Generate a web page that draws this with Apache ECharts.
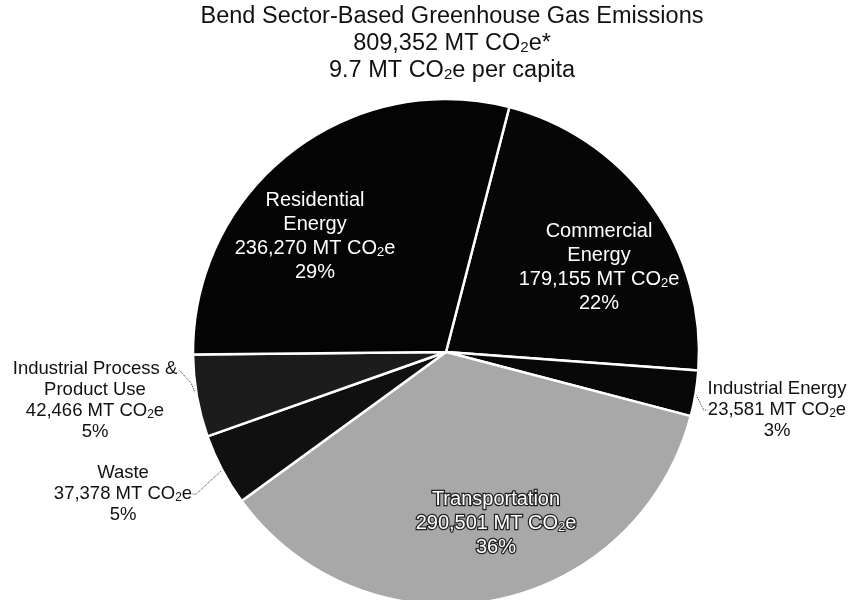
<!DOCTYPE html>
<html><head><meta charset="utf-8">
<script src="https://cdn.jsdelivr.net/npm/echarts@6/dist/echarts.min.js"></script>
<style>html,body{margin:0;padding:0;background:#fff}#c{width:861px;height:600px}</style>
</head><body><div id="c"></div>
<script>
// ---- data ----
const titleLines = ['Bend Sector-Based Greenhouse Gas Emissions', '809,352 MT CO₂e*', '9.7 MT CO₂e per capita'];
const categories = ['Commercial Energy', 'Industrial Energy', 'Transportation', 'Waste', 'Industrial Process & Product Use', 'Residential Energy'];
const labelNames = ['Commercial\nEnergy', 'Industrial Energy', 'Transportation', 'Waste', 'Industrial Process &\nProduct Use', 'Residential\nEnergy'];
const values = [179155, 23581, 290501, 37378, 42466, 236270];
const percents = ['22%', '3%', '36%', '5%', '5%', '29%'];

// ---- styling / layout ----
const FONT = '"Liberation Sans", Arial, sans-serif';
const colors = ['#060606', '#080808', '#a8a8a8', '#101010', '#1c1c1c', '#040404'];
const inside = [true, false, true, false, false, true];
const labelXY = [[599, 267], [777, 410], [496, 523], [123, 494], [95, 400], [315, 236]];

function subs(s) { return s.replace(/₂/g, '{s|2}'); }

const data = categories.map((c, i) => ({
  name: c,
  value: values[i],
  itemStyle: { color: colors[i] },
  label: inside[i] ? {
    position: 'inside', color: '#fff', fontSize: 20, lineHeight: 24,
    textBorderColor: i === 2 ? '#222' : 'transparent', textBorderWidth: i === 2 ? 2.5 : 0,
    rich: { s: { fontSize: 13, lineHeight: 13, padding: [8, 0, 0, 0], color: '#fff',
      textBorderColor: i === 2 ? '#222' : 'transparent', textBorderWidth: i === 2 ? 2 : 0 } }
  } : {
    position: 'outside', color: '#111', fontSize: 18.5, lineHeight: 21,
    rich: { s: { fontSize: 12, lineHeight: 12, padding: [8, 0, 0, 0], color: '#111' } }
  },
  labelLine: { show: !inside[i] }
}));

const chart = echarts.init(document.getElementById('c'), null, { renderer: 'canvas' });
chart.setOption({
  animation: false,
  backgroundColor: '#fff',
  title: {
    text: subs(titleLines.join('\n')),
    left: 447, top: -2, textAlign: 'center',
    textStyle: {
      fontFamily: FONT, fontSize: 23.5, lineHeight: 27, fontWeight: 'normal', color: '#111',
      rich: { s: { fontFamily: FONT, fontSize: 15, lineHeight: 15, padding: [9, 0, 0, 0], color: '#111' } }
    }
  },
  series: [{
    type: 'pie',
    center: [446, 352],
    radius: 253,
    startAngle: 75.5,
    clockwise: true,
    avoidLabelOverlap: false,
    silent: true,
    itemStyle: { borderColor: '#fff', borderWidth: 2.5 },
    label: {
      fontFamily: FONT,
      formatter: p => {
        const i = p.dataIndex;
        return labelNames[i] + '\n' + values[i].toLocaleString('en-US') + ' MT CO{s|2}e\n' + percents[i];
      }
    },
    labelLine: { lineStyle: { color: '#333', width: 1, type: 'dotted' }, length: 8, length2: 4 },
    labelLayout: p => {
      const i = p.dataIndex;
      const res = { x: labelXY[i][0], y: labelXY[i][1], align: 'center', verticalAlign: 'middle' };
      if (i === 4 && p.labelLinePoints && p.labelLinePoints.length) {
        // attach leader to the top-right end of the first text line
        const e = p.labelLinePoints[0];
        const w = p.labelRect.width, h = p.labelRect.height;
        const end = [labelXY[i][0] + w / 2 + 2, labelXY[i][1] - h / 2 + 12];
        res.labelLinePoints = [e, [(e[0] + end[0]) / 2 + 3, (e[1] + end[1]) / 2], end];
      }
      return res;
    },
    emphasis: { disabled: true },
    data: data
  }]
});
</script>
</body></html>
